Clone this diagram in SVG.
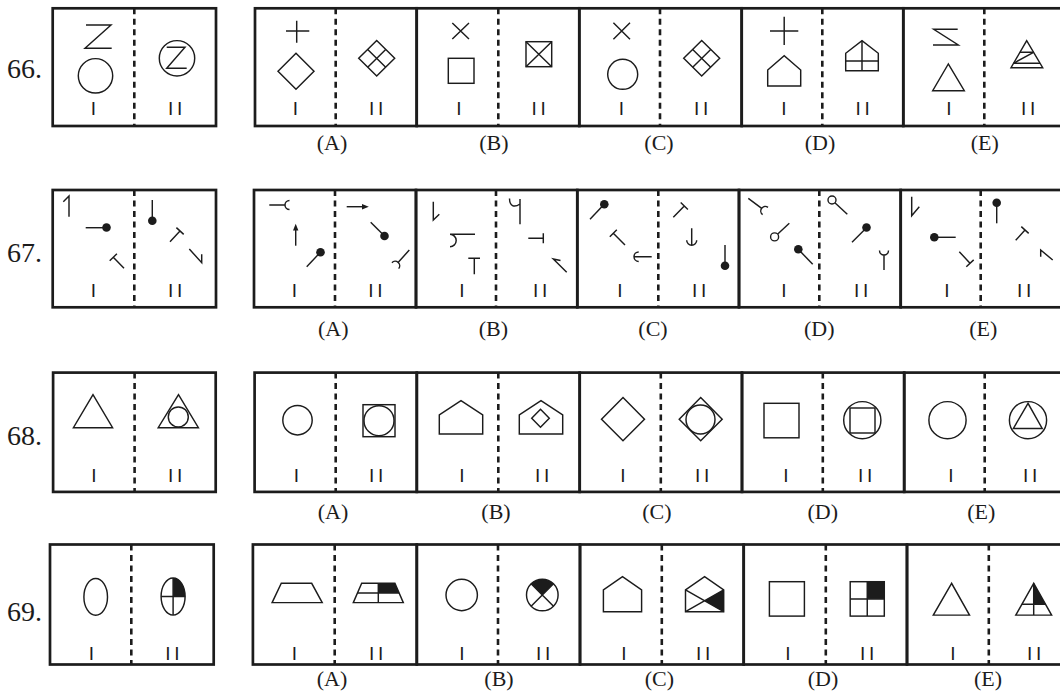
<svg xmlns="http://www.w3.org/2000/svg" width="1060" height="695" viewBox="0 0 1060 695">
<style>
.box{fill:none;stroke:#1c1c1c;stroke-width:2.7}
.dv{fill:none;stroke:#1c1c1c;stroke-width:2.6;stroke-dasharray:6 4.5}
.s{fill:none;stroke:#1c1c1c;stroke-width:1.45}
.f{fill:#1c1c1c;stroke:none}
.w{fill:#fff;stroke:#1c1c1c;stroke-width:1.4}
.num{font-family:"Liberation Serif",serif;font-size:28px;fill:#1c1c1c}
.opt{font-family:"Liberation Serif",serif;font-size:22px;text-anchor:middle;fill:#1c1c1c}
.r1{font-family:"Liberation Sans",sans-serif;font-size:19px;text-anchor:middle;fill:#1c1c1c}
.r2{font-family:"Liberation Sans",sans-serif;font-size:19px;text-anchor:middle;letter-spacing:3.6px;fill:#1c1c1c}
</style>
<rect width="1060" height="695" fill="#fff"/>

<!-- ROW 66 -->
<g id="q66-label"><text class="num" x="7" y="78">66.</text></g>
<g id="q66-stem">
<rect class="box" x="52.7" y="8.3" width="163.3" height="117.7"/>
<line class="dv" x1="134.3" y1="8.3" x2="134.3" y2="126"/>
<path class="s" d="M86,25 H111 L85,48.3 H111.7"/>
<circle class="s" cx="95.5" cy="75.8" r="17.2"/>
<circle class="s" cx="177" cy="58.3" r="17.7"/>
<path class="s" d="M166.7,47.3 H185 L166.7,68.3 H186.7"/>
<text class="r1" x="93.5" y="115">I</text><text class="r2" x="177" y="115">II</text>
</g>
<g id="q66-A">
<rect class="box" x="255" y="8.3" width="161.7" height="117.7"/>
<line class="dv" x1="335.7" y1="8.3" x2="335.7" y2="126"/>
<path class="s" d="M286,31 H309.3 M296.7,20.7 V42.7"/>
<polygon class="s" points="296,53.3 314,71.3 296,89.3 278,71.3"/>
<polygon class="s" points="376.7,40.6 394.7,58.3 376.7,76 358.7,58.3"/>
<path class="s" d="M385.7,49.45 L367.7,67.15 M367.7,49.45 L385.7,67.15"/>
<text class="r1" x="295.4" y="115">I</text><text class="r2" x="378" y="115">II</text>
<text class="opt" x="332" y="149.5">(A)</text>
</g>
<g id="q66-B">
<rect class="box" x="416.7" y="8.3" width="162.6" height="117.7"/>
<line class="dv" x1="498.3" y1="8.3" x2="498.3" y2="126"/>
<path class="s" d="M452.3,23 L469,39 M469,23 L452.3,39"/>
<rect class="s" x="448.3" y="58.3" width="25.7" height="25"/>
<rect class="s" x="526" y="41.7" width="25.7" height="25"/>
<path class="s" d="M526,41.7 L551.7,66.7 M551.7,41.7 L526,66.7"/>
<text class="r1" x="459" y="115">I</text><text class="r2" x="540.5" y="115">II</text>
<text class="opt" x="493.8" y="149.5">(B)</text>
</g>
<g id="q66-C">
<rect class="box" x="579.3" y="8.3" width="162.4" height="117.7"/>
<line class="dv" x1="660" y1="8.3" x2="660" y2="126"/>
<path class="s" d="M613.4,22.7 L630,39.3 M630,22.7 L613.4,39.3"/>
<circle class="s" cx="622.7" cy="74.3" r="15"/>
<polygon class="s" points="701.7,40.6 719.7,58.3 701.7,76 683.7,58.3"/>
<path class="s" d="M710.7,49.45 L692.7,67.15 M692.7,49.45 L710.7,67.15"/>
<text class="r1" x="621.5" y="115">I</text><text class="r2" x="703" y="115">II</text>
<text class="opt" x="659" y="149.5">(C)</text>
</g>
<g id="q66-D">
<rect class="box" x="741.7" y="8.3" width="161.6" height="117.7"/>
<line class="dv" x1="822.3" y1="8.3" x2="822.3" y2="126"/>
<path class="s" d="M770,31 H798.3 M784.2,16.7 V45"/>
<polygon class="s" points="767.7,86 767.7,70 784.2,55.7 800.7,70 800.7,86"/>
<polygon class="s" points="845.7,70.7 845.7,53.3 862,40.7 878.3,53.3 878.3,70.7"/>
<path class="s" d="M862,40.7 V70.7 M845.7,61 H878.3"/>
<text class="r1" x="784" y="115">I</text><text class="r2" x="864.5" y="115">II</text>
<text class="opt" x="820" y="149.5">(D)</text>
</g>
<g id="q66-E">
<rect class="box" x="903.3" y="8.3" width="161.7" height="117.7"/>
<line class="dv" x1="984.3" y1="8.3" x2="984.3" y2="126"/>
<path class="s" d="M957.7,29.3 H933.7 L958.3,45 H933"/>
<polygon class="s" points="948.3,64 932.7,90.7 964.3,90.7"/>
<polygon class="s" points="1026.7,40.7 1011,67.7 1042.7,67.7"/>
<path class="s" d="M1019.9,52.3 H1033.5 L1013.4,63.3 H1040"/>
<text class="r1" x="949" y="115">I</text><text class="r2" x="1030" y="115">II</text>
<text class="opt" x="984.7" y="149.5">(E)</text>
</g>

<!-- ROW 67 -->
<g id="q67-label"><text class="num" x="7" y="262">67.</text></g>
<g id="q67-stem">
<rect class="box" x="52.7" y="190" width="163.3" height="117.3"/>
<line class="dv" x1="134.3" y1="190" x2="134.3" y2="307.3"/>
<path class="s" d="M63.3,201.7 L69,196 L69,216.7"/>
<line class="s" x1="85.7" y1="227.7" x2="104" y2="227.7"/><circle class="f" cx="106.5" cy="227.5" r="4.3"/>
<path class="s" d="M124,268.3 L113.3,257.3 M109.7,260.8 L116.9,253.8"/>
<line class="s" x1="152.3" y1="200" x2="152.3" y2="218"/><circle class="f" cx="152.3" cy="220.7" r="4.3"/>
<path class="s" d="M170,241.7 L180,231 M176.4,227.6 L183.7,234.4"/>
<path class="s" d="M189.3,249 L201.7,262.7 L201.7,254.3"/>
<text class="r1" x="93.5" y="296.7">I</text><text class="r2" x="177" y="296.7">II</text>
</g>
<g id="q67-A">
<rect class="box" x="254" y="190" width="162" height="117.3"/>
<line class="dv" x1="335" y1="190" x2="335" y2="307.3"/>
<path class="s" d="M269.3,205 H285 M289.5,200.5 A4.5,4.5 0 0 0 289.5,209.5"/>
<line class="s" x1="295.7" y1="245.7" x2="295.7" y2="229"/><polygon class="f" points="295.7,223.7 293,230.5 298.4,230.5"/>
<line class="s" x1="306.7" y1="266.7" x2="318.5" y2="254.3"/><circle class="f" cx="320.5" cy="252.3" r="4.3"/>
<line class="s" x1="346.7" y1="206.7" x2="363" y2="206.7"/><polygon class="f" points="368.8,206.7 362,204 362,209.4"/>
<line class="s" x1="370.7" y1="222.3" x2="382.5" y2="234"/><circle class="f" cx="384.5" cy="236" r="4.3"/>
<path class="s" d="M409.3,250 L398.3,262.3 M398.65,268.65 A4.5,4.5 0 0 0 391.95,262.65"/>
<text class="r1" x="294.5" y="296.7">I</text><text class="r2" x="377.2" y="296.7">II</text>
<text class="opt" x="333.3" y="336">(A)</text>
</g>
<g id="q67-B">
<rect class="box" x="416" y="190" width="161.3" height="117.3"/>
<line class="dv" x1="496" y1="190" x2="496" y2="307.3"/>
<path class="s" d="M433.3,201.7 L433.3,220 L439.3,214.3"/>
<path class="s" d="M475,234.3 H450 A6.2,6.2 0 0 1 450,246.7"/>
<path class="s" d="M468.3,258.3 H480 M474.3,258.3 V274.3"/>
<path class="s" d="M509.5,198.5 C509.5,206 514,208 520,204 M520,199 V224.3"/>
<path class="s" d="M528.3,238.3 H543.3 M543.3,233.3 V243.3"/>
<path class="s" d="M566.7,272.3 L553.3,259 L560.5,260.5"/>
<text class="r1" x="462" y="296.7">I</text><text class="r2" x="542" y="296.7">II</text>
<text class="opt" x="493.3" y="336">(B)</text>
</g>
<g id="q67-C">
<rect class="box" x="577.3" y="190" width="161.7" height="117.3"/>
<line class="dv" x1="658.3" y1="190" x2="658.3" y2="307.3"/>
<line class="s" x1="590" y1="219.3" x2="602.3" y2="206.3"/><circle class="f" cx="604.3" cy="204.3" r="4.3"/>
<path class="s" d="M625,245 L613.3,233.3 M616.8,229.8 L609.8,236.8"/>
<path class="s" d="M634,256.7 H651.7 M638.7,252 A4.7,4.7 0 0 0 638.7,261.4"/>
<path class="s" d="M680.7,202.5 L687.9,209.5 M684.3,206 L673.3,217.3"/>
<path class="s" d="M691.7,228.3 V245.3 M696.7,240.3 A5,5 0 0 1 686.7,240.3"/>
<line class="s" x1="725" y1="245" x2="725" y2="262"/><circle class="f" cx="725" cy="265.7" r="4.3"/>
<text class="r1" x="620" y="296.7">I</text><text class="r2" x="701" y="296.7">II</text>
<text class="opt" x="653" y="336">(C)</text>
</g>
<g id="q67-D">
<rect class="box" x="739" y="190" width="161.7" height="117.3"/>
<line class="dv" x1="819.3" y1="190" x2="819.3" y2="307.3"/>
<path class="s" d="M748.3,198.3 L761.7,208.3 M768,207.4 A4.5,4.5 0 0 0 762.6,214.6"/>
<line class="s" x1="789.3" y1="223.3" x2="777.5" y2="234.2"/><circle class="w" cx="774.6" cy="236.9" r="4"/>
<line class="s" x1="798.3" y1="249.3" x2="812.7" y2="264.3"/><circle class="f" cx="798.3" cy="249.3" r="4.3"/>
<circle class="w" cx="832" cy="200" r="4"/><line class="s" x1="834.9" y1="202.8" x2="847.3" y2="214.3"/>
<line class="s" x1="852" y1="242.3" x2="865" y2="229.3"/><circle class="f" cx="866.5" cy="227.5" r="4.3"/>
<path class="s" d="M884,270 V255 M879.5,250.5 A4.5,4.5 0 0 0 888.5,250.5"/>
<text class="r1" x="784" y="296.7">I</text><text class="r2" x="863" y="296.7">II</text>
<text class="opt" x="819.3" y="336">(D)</text>
</g>
<g id="q67-E">
<rect class="box" x="900.7" y="190" width="161.7" height="117.3"/>
<line class="dv" x1="980.7" y1="190" x2="980.7" y2="307.3"/>
<path class="s" d="M911.7,196.7 L911.7,215.7 L919.3,206.7"/>
<line class="s" x1="934.3" y1="237.3" x2="955.7" y2="237.3"/><circle class="f" cx="934.3" cy="237.3" r="4.3"/>
<path class="s" d="M959.3,251.7 L970,263.3 M966.3,266.7 L973.7,259.9"/>
<line class="s" x1="996.7" y1="202.7" x2="996.7" y2="223.3"/><circle class="f" cx="996.7" cy="202.7" r="4.3"/>
<path class="s" d="M1015.7,240.3 L1025,230 M1021.3,226.65 L1028.7,233.35"/>
<path class="s" d="M1052.7,260 L1040.7,250 L1040.7,256.7"/>
<text class="r1" x="947" y="296.7">I</text><text class="r2" x="1026" y="296.7">II</text>
<text class="opt" x="983.3" y="336">(E)</text>
</g>

<!-- ROW 68 -->
<g id="q68-label"><text class="num" x="7" y="444.6">68.</text></g>
<g id="q68-stem">
<rect class="box" x="53.1" y="372.6" width="162.6" height="119.3"/>
<line class="dv" x1="134.6" y1="372.6" x2="134.6" y2="491.9"/>
<polygon class="s" points="93,394.6 73.4,427.7 112.6,427.7"/>
<polygon class="s" points="178.5,394.6 158.2,427.7 198.4,427.7"/>
<circle class="s" cx="178.3" cy="416.9" r="10"/>
<text class="r1" x="94" y="481.5">I</text><text class="r2" x="177" y="481.5">II</text>
</g>
<g id="q68-A">
<rect class="box" x="254.6" y="372.6" width="162.2" height="119.3"/>
<line class="dv" x1="335.7" y1="372.6" x2="335.7" y2="491.9"/>
<circle class="s" cx="297.5" cy="420.2" r="14.7"/>
<rect class="s" x="363" y="404.7" width="32" height="32"/>
<circle class="s" cx="379" cy="420.7" r="15"/>
<text class="r1" x="296.5" y="481.5">I</text><text class="r2" x="378" y="481.5">II</text>
<text class="opt" x="333" y="519">(A)</text>
</g>
<g id="q68-B">
<rect class="box" x="416.8" y="372.6" width="162.9" height="119.3"/>
<line class="dv" x1="498.3" y1="372.6" x2="498.3" y2="491.9"/>
<polygon class="s" points="439.3,434 439.3,415 461,400.7 482.7,415 482.7,434"/>
<polygon class="s" points="519.3,434 519.3,415 541,400.7 562.7,415 562.7,434"/>
<polygon class="s" points="540.5,409.3 549.3,418.3 540.5,427.3 531.7,418.3"/>
<text class="r1" x="462" y="481.5">I</text><text class="r2" x="544" y="481.5">II</text>
<text class="opt" x="496" y="519">(B)</text>
</g>
<g id="q68-C">
<rect class="box" x="579.7" y="372.6" width="162.3" height="119.3"/>
<line class="dv" x1="660.8" y1="372.6" x2="660.8" y2="491.9"/>
<polygon class="s" points="623,397.6 644.5,419.2 623,440.8 601.5,419.2"/>
<polygon class="s" points="700.7,397.6 722.2,419.2 700.7,440.8 679.2,419.2"/>
<circle class="s" cx="700.5" cy="419.5" r="14.5"/>
<text class="r1" x="623" y="481.5">I</text><text class="r2" x="704" y="481.5">II</text>
<text class="opt" x="656.8" y="519">(C)</text>
</g>
<g id="q68-D">
<rect class="box" x="742" y="372.6" width="162.2" height="119.3"/>
<line class="dv" x1="822.8" y1="372.6" x2="822.8" y2="491.9"/>
<rect class="s" x="764" y="403.3" width="35" height="34.5"/>
<circle class="s" cx="862.3" cy="420.2" r="18.6"/>
<rect class="s" x="850" y="408" width="25" height="25"/>
<text class="r1" x="786" y="481.5">I</text><text class="r2" x="867" y="481.5">II</text>
<text class="opt" x="822.8" y="519">(D)</text>
</g>
<g id="q68-E">
<rect class="box" x="904.2" y="372.6" width="162.2" height="119.3"/>
<line class="dv" x1="984.7" y1="372.6" x2="984.7" y2="491.9"/>
<circle class="s" cx="947.5" cy="420.2" r="18.6"/>
<circle class="s" cx="1028" cy="420.2" r="18.6"/>
<polygon class="s" points="1028,403.3 1013.4,428.4 1042.2,428.4"/>
<text class="r1" x="951" y="481.5">I</text><text class="r2" x="1032" y="481.5">II</text>
<text class="opt" x="981.3" y="519">(E)</text>
</g>

<!-- ROW 69 -->
<g id="q69-label"><text class="num" x="7" y="621">69.</text></g>
<g id="q69-stem">
<rect class="box" x="50" y="544.5" width="163.7" height="120"/>
<line class="dv" x1="131.3" y1="544.5" x2="131.3" y2="664.5"/>
<ellipse class="s" cx="95.7" cy="596.9" rx="11.8" ry="18.4"/>
<path class="f" d="M173.1,596.5 V577.9 A12,18.6 0 0 1 185.1,596.5 Z"/>
<ellipse class="s" cx="173.1" cy="596.5" rx="12" ry="18.6"/>
<path class="s" d="M173.1,577.9 V615.1 M161.1,596.5 H185.1"/>
<text class="r1" x="91.3" y="660">I</text><text class="r2" x="174.2" y="660">II</text>
</g>
<g id="q69-A">
<rect class="box" x="252.9" y="544.5" width="163.9" height="120"/>
<line class="dv" x1="334.7" y1="544.5" x2="334.7" y2="664.5"/>
<polygon class="s" points="281.3,583.3 311.7,583.3 322.2,602.6 272.1,602.6"/>
<polygon class="f" points="378.3,583.3 394.9,583.3 399.1,592.95 378.3,592.95"/>
<polygon class="s" points="361.7,583.3 394.9,583.3 403.3,602.6 353.3,602.6"/>
<path class="s" d="M378.3,583.3 V602.6 M357.5,592.95 H399.1"/>
<text class="r1" x="294.5" y="660">I</text><text class="r2" x="378" y="660">II</text>
<text class="opt" x="332" y="685.5">(A)</text>
</g>
<g id="q69-B">
<rect class="box" x="416.8" y="544.5" width="163.2" height="120"/>
<line class="dv" x1="498" y1="544.5" x2="498" y2="664.5"/>
<circle class="s" cx="461.7" cy="595" r="15.7"/>
<path class="f" d="M542.3,595 L531.1,583.8 A15.8,15.8 0 0 1 553.5,583.8 Z"/>
<circle class="s" cx="542.3" cy="595" r="15.8"/>
<path class="s" d="M531.1,583.8 L553.5,606.2 M553.5,583.8 L531.1,606.2"/>
<text class="r1" x="462" y="660">I</text><text class="r2" x="545" y="660">II</text>
<text class="opt" x="499" y="685.5">(B)</text>
</g>
<g id="q69-C">
<rect class="box" x="580" y="544.5" width="163.7" height="120"/>
<line class="dv" x1="661.8" y1="544.5" x2="661.8" y2="664.5"/>
<polygon class="s" points="603.4,611.7 603.4,589.8 622.5,576.6 641.6,589.8 641.6,611.7"/>
<polygon class="f" points="704.6,600.75 723.7,589.8 723.7,611.7"/>
<polygon class="s" points="685.5,611.7 685.5,589.8 704.6,576.6 723.7,589.8 723.7,611.7"/>
<path class="s" d="M685.5,589.8 L723.7,611.7 M685.5,611.7 L723.7,589.8"/>
<text class="r1" x="624" y="660">I</text><text class="r2" x="705" y="660">II</text>
<text class="opt" x="659.4" y="685.5">(C)</text>
</g>
<g id="q69-D">
<rect class="box" x="743.7" y="544.5" width="163.3" height="120"/>
<line class="dv" x1="825.8" y1="544.5" x2="825.8" y2="664.5"/>
<rect class="s" x="769.4" y="581.7" width="35" height="34.4"/>
<rect class="f" x="867.25" y="581.7" width="17.05" height="17.2"/>
<rect class="s" x="850.2" y="581.7" width="34.1" height="34.4"/>
<path class="s" d="M867.25,581.7 V616.1 M850.2,598.9 H884.3"/>
<text class="r1" x="788" y="660">I</text><text class="r2" x="869" y="660">II</text>
<text class="opt" x="823" y="685.5">(D)</text>
</g>
<g id="q69-E">
<rect class="box" x="907" y="544.5" width="163.6" height="120"/>
<line class="dv" x1="988.8" y1="544.5" x2="988.8" y2="664.5"/>
<polygon class="s" points="951.6,583.3 933.3,615.1 969.5,615.1"/>
<polygon class="f" points="1033.7,583.3 1045.5,604.3 1033.7,604.3"/>
<polygon class="s" points="1033.7,583.3 1015.8,615.1 1051.6,615.1"/>
<path class="s" d="M1033.7,583.3 V615.1 M1021.9,604.3 H1045.5"/>
<text class="r1" x="953" y="660">I</text><text class="r2" x="1036" y="660">II</text>
<text class="opt" x="988" y="685.5">(E)</text>
</g>
</svg>
